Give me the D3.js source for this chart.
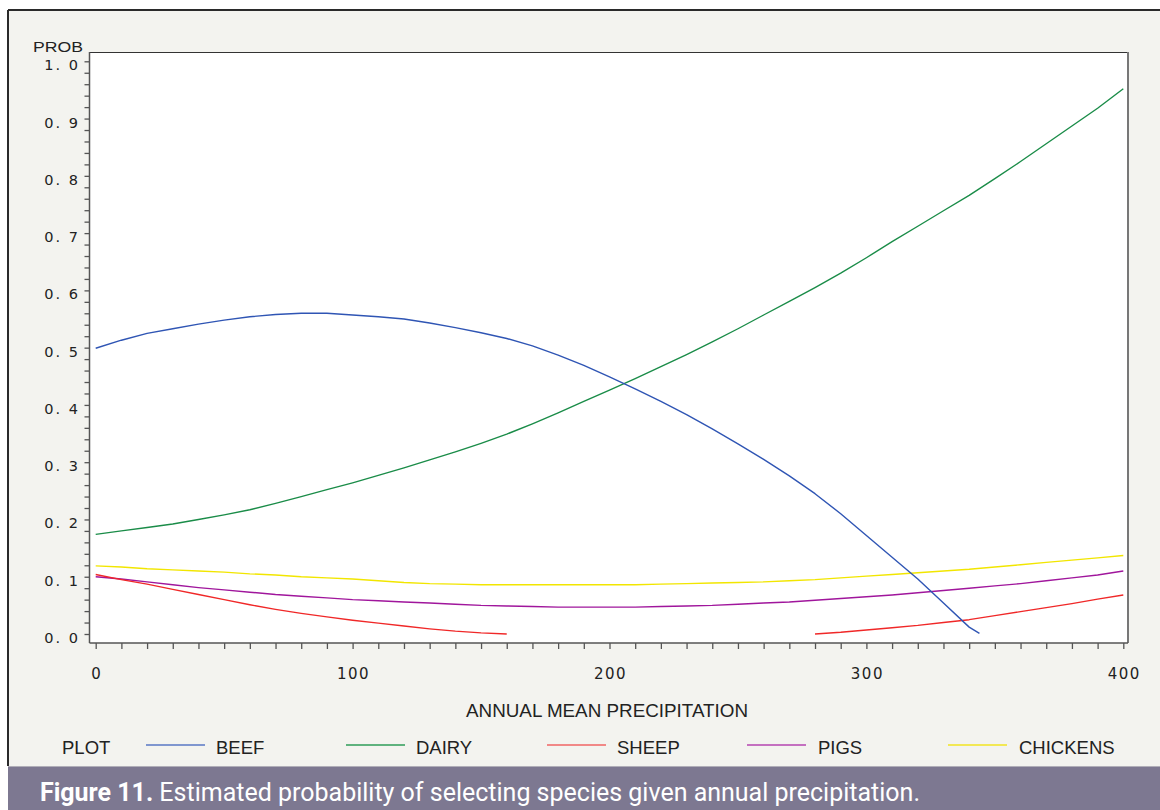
<!DOCTYPE html>
<html>
<head>
<meta charset="utf-8">
<script src="https://cdn.jsdelivr.net/npm/d3@7"></script>
<style>
  html, body { margin: 0; padding: 0; background: #ffffff; }
  svg { display: block; }
</style>
</head>
<body>
<svg id="chart" width="1160" height="810"></svg>
<script>
// ---------------- DATA ----------------
const precip = [0,10,20,30,40,50,60,70,80,90,100,110,120,130,140,150,160,170,180,190,200,
                210,220,230,240,250,260,270,280,290,300,310,320,330,340,350,360,370,380,390,400];

const beefX = [0,10,20,30,40,50,60,70,80,90,100,110,120,130,140,150,160,170,180,190,200,
               210,220,230,240,250,260,270,280,290,300,310,320,330,340,344];
const beefY = [0.499,0.513,0.525,0.533,0.541,0.548,0.554,0.558,0.560,0.560,0.557,0.554,0.550,0.543,0.535,0.526,0.516,0.503,0.487,0.469,0.449,
               0.428,0.406,0.383,0.358,0.332,0.305,0.276,0.245,0.210,0.172,0.134,0.096,0.054,0.012,0.001];

const dairyY = [0.174,0.180,0.186,0.192,0.200,0.208,0.217,0.228,0.240,0.252,0.264,0.277,0.290,0.304,0.318,0.333,0.349,0.367,0.386,0.406,0.426,
                0.446,0.467,0.488,0.510,0.533,0.557,0.581,0.605,0.630,0.657,0.685,0.712,0.739,0.766,0.795,0.825,0.856,0.887,0.918,0.952];

const sheepX1 = [0,10,20,30,40,50,60,70,80,90,100,110,120,130,140,150,160];
const sheepY1 = [0.104,0.095,0.087,0.078,0.069,0.060,0.051,0.043,0.036,0.030,0.024,0.019,0.014,0.009,0.005,0.002,0.000];
const sheepX2 = [280,290,300,310,320,330,340,350,360,370,380,390,400];
const sheepY2 = [0.000,0.003,0.007,0.011,0.015,0.020,0.025,0.032,0.039,0.046,0.053,0.061,0.068];

const pigsY = [0.100,0.096,0.091,0.086,0.081,0.077,0.073,0.069,0.066,0.063,0.060,0.058,0.056,0.054,0.052,0.050,0.049,0.048,0.047,0.047,0.047,
               0.047,0.048,0.049,0.050,0.052,0.054,0.056,0.059,0.062,0.065,0.068,0.072,0.076,0.080,0.084,0.088,0.093,0.098,0.103,0.110];

const chickensY = [0.119,0.117,0.114,0.112,0.110,0.108,0.105,0.103,0.100,0.098,0.096,0.093,0.090,0.088,0.087,0.086,0.086,0.086,0.086,0.086,0.086,
                   0.086,0.087,0.088,0.089,0.090,0.091,0.093,0.095,0.098,0.101,0.104,0.107,0.110,0.113,0.117,0.121,0.125,0.129,0.133,0.137];

const legendNames = ["BEEF","DAIRY","SHEEP","PIGS","CHICKENS"];
const seriesColors = ["#2f55b4","#1a8c48","#f02828","#a0169c","#f2e600"];
const legendColors = ["#5877c4","#2e9c58","#f06464","#b444b0","#f2e422"];

const xTickValues = [0,100,200,300,400];
const xTickLabels = ["0","100","200","300","400"];
const yTickValues = [0,0.1,0.2,0.3,0.4,0.5,0.6,0.7,0.8,0.9,1.0];
const yTickLabels = ["0. 0","0. 1","0. 2","0. 3","0. 4","0. 5","0. 6","0. 7","0. 8","0. 9","1. 0"];

const yAxisTitle = "PROB";
const xAxisTitle = "ANNUAL MEAN PRECIPITATION";
const legendTitle = "PLOT";
const captionBold = "Figure 11.";
const captionText = " Estimated probability of selecting species given annual precipitation.";

// ---------------- DRAW ----------------
const svg = d3.select("#chart");
const W = 1160, H = 810;

// background panel
svg.append("rect").attr("x", 8).attr("y", 10).attr("width", W - 8).attr("height", 756).attr("fill", "#f3f3ef");
// outer dark border (top + left)
svg.append("line").attr("x1", 8).attr("x2", W).attr("y1", 10).attr("y2", 10).attr("stroke", "#2a2a2a").attr("stroke-width", 2);
svg.append("line").attr("x1", 8).attr("x2", 8).attr("y1", 10).attr("y2", 766).attr("stroke", "#2a2a2a").attr("stroke-width", 2);

// caption band
svg.append("rect").attr("x", 8).attr("y", 766).attr("width", W - 8).attr("height", H - 766).attr("fill", "#7d7891");
svg.append("line").attr("x1", 8).attr("x2", W).attr("y1", 766.5).attr("y2", 766.5).attr("stroke", "#b0aeb8").attr("stroke-width", 1);

const x = d3.scaleLinear().domain([0, 400]).range([95.7, 1123.3]);
const y = d3.scaleLinear().domain([0, 1]).range([634, 61.3]);

const plotL = 89.5, plotR = 1128, plotT = 52, plotB = 643;

// plot area
svg.append("rect").attr("x", plotL).attr("y", plotT).attr("width", plotR - plotL).attr("height", plotB - plotT).attr("fill", "#ffffff");
svg.append("line").attr("x1", plotL).attr("x2", plotR).attr("y1", plotT + 0.5).attr("y2", plotT + 0.5).attr("stroke", "#333").attr("stroke-width", 1.2);
svg.append("line").attr("x1", plotR).attr("x2", plotR).attr("y1", plotT).attr("y2", plotB).attr("stroke", "#777").attr("stroke-width", 2);
svg.append("line").attr("x1", plotL).attr("x2", plotL).attr("y1", plotT).attr("y2", plotB).attr("stroke", "#555").attr("stroke-width", 1.5);
svg.append("line").attr("x1", plotL).attr("x2", plotR).attr("y1", plotB).attr("y2", plotB).attr("stroke", "#555").attr("stroke-width", 1.5);

// Y axis ticks (minor every 0.02)
const yMinor = d3.range(0, 51).map(i => i / 50);
const yAxis = d3.axisLeft(y).tickValues(yMinor).tickSize(5).tickFormat("");
const gy = svg.append("g").attr("transform", `translate(${plotL},0)`).call(yAxis);
gy.select(".domain").remove();
gy.selectAll(".tick line").attr("stroke", "#555").attr("stroke-width", 1.3);

svg.append("g").selectAll("text").data(yTickValues).join("text")
  .attr("x", 80).attr("y", d => y(d) + 9)
  .attr("text-anchor", "end")
  .attr("font-family", "DejaVu Sans, sans-serif").attr("font-size", 14.5)
  .attr("letter-spacing", 2)
  .attr("fill", "#222")
  .text((d, i) => yTickLabels[i]);

// X axis ticks (minor every 10)
const xMinor = d3.range(0, 41).map(i => i * 10);
const xAxis = d3.axisBottom(x).tickValues(xMinor).tickSize(6).tickFormat("");
const gx = svg.append("g").attr("transform", `translate(0,${plotB})`).call(xAxis);
gx.select(".domain").remove();
gx.selectAll(".tick line").attr("stroke", "#555").attr("stroke-width", 1.3);

svg.append("g").selectAll("text").data(xTickValues).join("text")
  .attr("x", d => x(d) + 1).attr("y", 679)
  .attr("text-anchor", "middle")
  .attr("font-family", "DejaVu Sans, sans-serif").attr("font-size", 15)
  .attr("letter-spacing", 1.5)
  .attr("fill", "#222")
  .text((d, i) => xTickLabels[i]);

// axis titles
svg.append("text").attr("x", 33).attr("y", 52)
  .attr("font-family", "Liberation Sans, Arial, sans-serif").attr("font-size", 14)
  .attr("textLength", 50).attr("lengthAdjust", "spacingAndGlyphs")
  .attr("fill", "#222").text(yAxisTitle);

svg.append("text").attr("x", 466).attr("y", 717)
  .attr("font-family", "Liberation Sans, Arial, sans-serif").attr("font-size", 18)
  .attr("textLength", 282).attr("lengthAdjust", "spacingAndGlyphs")
  .attr("fill", "#222").text(xAxisTitle);

// series lines
const line = d3.line().x(d => x(d[0])).y(d => y(d[1]));
const zip = (xs, ys) => xs.map((v, i) => [v, ys[i]]);
const seriesData = [
  { c: 0, pts: zip(beefX, beefY) },
  { c: 1, pts: zip(precip, dairyY) },
  { c: 2, pts: zip(sheepX1, sheepY1) },
  { c: 2, pts: zip(sheepX2, sheepY2) },
  { c: 3, pts: zip(precip, pigsY) },
  { c: 4, pts: zip(precip, chickensY) }
];
// draw order: chickens, pigs, sheep, dairy, beef on top
const order = [5, 4, 2, 3, 1, 0];
svg.append("g").selectAll("path").data(order.map(i => seriesData[i])).join("path")
  .attr("d", d => line(d.pts))
  .attr("fill", "none")
  .attr("stroke", d => seriesColors[d.c])
  .attr("stroke-width", 1.4)
  .attr("stroke-linejoin", "round");

// legend
const legY = 747;
svg.append("text").attr("x", 62).attr("y", legY + 7)
  .attr("font-family", "Liberation Sans, Arial, sans-serif").attr("font-size", 18.5)
  .attr("fill", "#222").text(legendTitle);
const legLineX = [146, 346, 547, 747, 948];
const legTextX = [216, 416, 617, 818, 1019];
const lg = svg.append("g").selectAll("g").data(legendNames).join("g");
lg.append("line")
  .attr("x1", (d, i) => legLineX[i]).attr("x2", (d, i) => legLineX[i] + 59)
  .attr("y1", legY - 2).attr("y2", legY - 2)
  .attr("stroke", (d, i) => legendColors[i]).attr("stroke-width", 1.5);
lg.append("text")
  .attr("x", (d, i) => legTextX[i]).attr("y", legY + 7)
  .attr("font-family", "Liberation Sans, Arial, sans-serif").attr("font-size", 18.5)
  .attr("fill", "#222").text(d => d);

// caption
const cap = svg.append("text").attr("x", 40).attr("y", 801)
  .attr("font-family", "Roboto, sans-serif").attr("font-size", 25)
  .attr("fill", "#ffffff")
  .attr("textLength", 880).attr("lengthAdjust", "spacingAndGlyphs");
cap.append("tspan").attr("font-weight", "bold").text(captionBold);
cap.append("tspan").text(captionText);
</script>
</body>
</html>
